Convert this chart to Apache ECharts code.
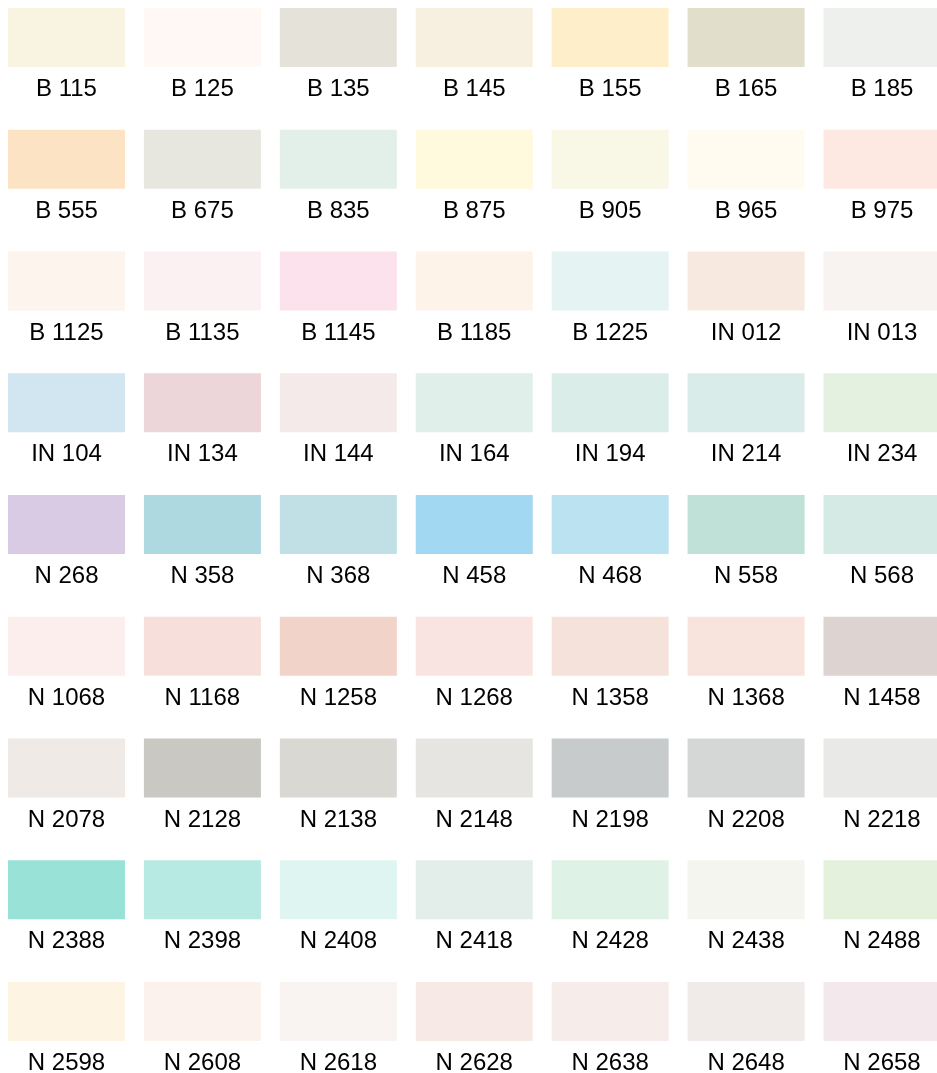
<!DOCTYPE html>
<html>
<head>
<meta charset="utf-8">
<title>Colour swatches</title>
<script src="https://cdn.jsdelivr.net/npm/echarts@6/dist/echarts.min.js"></script>
<style>
  html, body { margin: 0; padding: 0; background: #fff; }
  #chart { width: 937px; height: 1073px; }
</style>
</head>
<body>
<div id="chart"></div>
<script>
// swatch codes, read row by row (7 per row)
const codes = [
  'B 115', 'B 125', 'B 135', 'B 145', 'B 155', 'B 165', 'B 185',
  'B 555', 'B 675', 'B 835', 'B 875', 'B 905', 'B 965', 'B 975',
  'B 1125', 'B 1135', 'B 1145', 'B 1185', 'B 1225', 'IN 012', 'IN 013',
  'IN 104', 'IN 134', 'IN 144', 'IN 164', 'IN 194', 'IN 214', 'IN 234',
  'N 268', 'N 358', 'N 368', 'N 458', 'N 468', 'N 558', 'N 568',
  'N 1068', 'N 1168', 'N 1258', 'N 1268', 'N 1358', 'N 1368', 'N 1458',
  'N 2078', 'N 2128', 'N 2138', 'N 2148', 'N 2198', 'N 2208', 'N 2218',
  'N 2388', 'N 2398', 'N 2408', 'N 2418', 'N 2428', 'N 2438', 'N 2488',
  'N 2598', 'N 2608', 'N 2618', 'N 2628', 'N 2638', 'N 2648', 'N 2658'
]

// swatch colours, same order
const swatchColors = [
  '#F9F3E2', '#FFF8F5', '#E5E2DA', '#F7F0E0', '#FFEECA', '#E1DECC', '#EEF0ED',
  '#FBE3C4', '#E8E7DF', '#E2F0E9', '#FFFADD', '#F9F8E6', '#FFFBF0', '#FDE9E1',
  '#FDF4EE', '#FCF1F2', '#FCE2EC', '#FEF3E9', '#E5F3F3', '#F7E9E0', '#F8F3F0',
  '#D1E6F0', '#ECD6D9', '#F5EAEA', '#E1EFEB', '#DBEDE8', '#DAECEA', '#E5F1E0',
  '#D8CBE3', '#AED9E0', '#C0E0E6', '#A2D8F2', '#BBE2F0', '#BFE1D8', '#D5E9E5',
  '#FCEEED', '#F7E0DB', '#F2D3CA', '#FAE4E2', '#F5E2DA', '#F9E4DD', '#DDD3D1',
  '#EFEAE5', '#C9C8C3', '#D9D8D3', '#E6E5E1', '#C7CBCC', '#D5D7D6', '#E9E9E7',
  '#99E2D8', '#B6EAE2', '#DFF5F1', '#E3EEEA', '#DFF2E6', '#F4F5EF', '#E4F1DC',
  '#FEF4E4', '#FCF2ED', '#F9F3F1', '#F7EAE6', '#F6ECEA', '#F0EBE8', '#F3E8EC'
]

const PER_ROW = 7
const ROWS = Math.ceil(codes.length / PER_ROW)

const chart = echarts.init(document.getElementById('chart'), null, { renderer: 'canvas' })

const data = codes.map((code, i) => ({
  value: [i % PER_ROW, Math.floor(i / PER_ROW)],
  name: code,
  color: swatchColors[i]
}))

function renderItem(params, api) {
  const pt = api.coord([api.value(0), api.value(1)])
  const w = 117
  const h = 59
  const item = data[params.dataIndex]
  return {
    type: 'group',
    children: [
      {
        type: 'rect',
        shape: { x: pt[0] - w / 2, y: pt[1] - h / 2, width: w, height: h },
        style: { fill: item.color }
      },
      {
        type: 'text',
        x: pt[0],
        y: pt[1] + h / 2 + 22.5,
        style: {
          text: item.name,
          fill: '#000',
          font: '24px "Liberation Sans", Arial, sans-serif',
          align: 'center',
          verticalAlign: 'middle'
        }
      }
    ]
  }
}

const option = {
  backgroundColor: '#fff',
  animation: false,
  grid: { left: 66.5, right: 55, top: 37.5, bottom: 61.5 },
  xAxis: { type: 'value', min: 0, max: PER_ROW - 1, show: false },
  yAxis: { type: 'value', min: 0, max: ROWS - 1, inverse: true, show: false },
  series: [{
    type: 'custom',
    renderItem: renderItem,
    data: data.map(d => d.value),
    clip: false
  }]
}

chart.setOption(option)
</script>
</body>
</html>
